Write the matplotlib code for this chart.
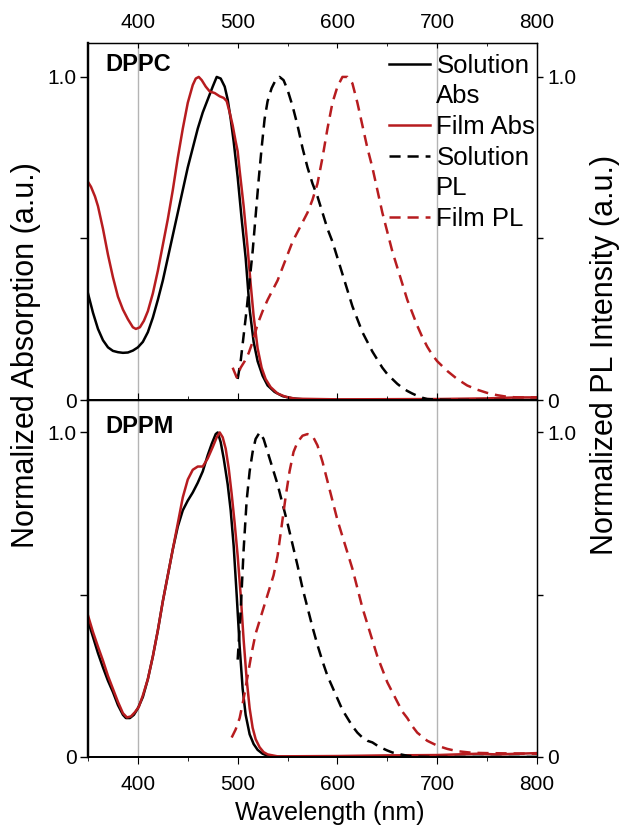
import numpy as np
import matplotlib
matplotlib.use('Agg')
import matplotlib.pyplot as plt
from matplotlib.lines import Line2D
from matplotlib.ticker import MultipleLocator

plt.rcParams['font.family'] = ['Liberation Sans', 'DejaVu Sans']
plt.rcParams['lines.scale_dashes'] = False

RED = '#b71c1f'
DASH = (8, 5)
LW = 1.8

# ---- DPPC (top panel) ----
dppc_sol_abs_x = [350, 355, 360, 365, 370, 375, 380, 385, 390, 395, 400, 405, 410, 415, 420, 425, 430,
                  435, 440, 445, 450, 455, 460, 465, 470, 475, 479, 483, 487, 490, 493, 496, 500, 504,
                  508, 512, 516, 520, 525, 530, 537, 545, 555, 570, 650, 800]
dppc_sol_abs_y = [0.33, 0.27, 0.22, 0.185, 0.163, 0.152, 0.148, 0.146, 0.147, 0.153, 0.163, 0.18, 0.21,
                  0.255, 0.31, 0.37, 0.44, 0.51, 0.58, 0.65, 0.72, 0.78, 0.84, 0.89, 0.93, 0.97, 1.0,
                  0.995, 0.97, 0.93, 0.87, 0.80, 0.69, 0.56, 0.44, 0.28, 0.18, 0.12, 0.075, 0.045, 0.025,
                  0.012, 0.005, 0.001, 0.0, 0.0]

dppc_film_abs_x = [350, 353, 357, 360, 365, 370, 375, 380, 385, 390, 395, 398, 402, 406, 410, 415, 420,
                   425, 430, 435, 440, 445, 450, 455, 458, 461, 464, 468, 472, 477, 482, 486, 489, 492,
                   495, 498, 500, 502, 506, 510, 513, 516, 520, 524, 528, 533, 540, 548, 558, 600, 700,
                   750, 780, 800]
dppc_film_abs_y = [0.675, 0.66, 0.63, 0.60, 0.53, 0.45, 0.38, 0.32, 0.28, 0.25, 0.225, 0.22, 0.225, 0.245,
                   0.275, 0.33, 0.40, 0.48, 0.56, 0.65, 0.75, 0.84, 0.92, 0.975, 0.995, 1.0, 0.99, 0.97,
                   0.955, 0.95, 0.94, 0.935, 0.925, 0.89, 0.85, 0.80, 0.77, 0.71, 0.60, 0.47, 0.36, 0.26,
                   0.16, 0.10, 0.065, 0.04, 0.02, 0.01, 0.004, 0.002, 0.003, 0.005, 0.008, 0.008]

dppc_sol_pl_x = [500, 503, 506, 509, 512, 515, 518, 521, 524, 527, 530, 534, 538, 542, 546, 550, 555,
                 560, 565, 570, 575, 580, 585, 590, 595, 600, 605, 610, 615, 620, 625, 630, 635, 640,
                 645, 650, 655, 660, 665, 670, 675, 680, 685, 690, 700, 720, 800]
dppc_sol_pl_y = [0.065, 0.12, 0.20, 0.28, 0.37, 0.46, 0.57, 0.68, 0.78, 0.87, 0.925, 0.965, 0.99, 1.0,
                 0.99, 0.96, 0.91, 0.85, 0.78, 0.72, 0.67, 0.63, 0.58, 0.53, 0.49, 0.44, 0.39, 0.34,
                 0.29, 0.25, 0.21, 0.18, 0.15, 0.125, 0.10, 0.08, 0.065, 0.05, 0.038, 0.028, 0.02,
                 0.013, 0.007, 0.003, 0.001, 0.0, 0.0]

dppc_film_pl_x = [495, 499, 503, 507, 511, 515, 520, 525, 530, 535, 540, 545, 550, 555, 560, 565, 570,
                  575, 580, 585, 590, 595, 600, 605, 610, 615, 620, 625, 630, 635, 640, 645, 650, 655,
                  660, 665, 670, 675, 680, 685, 690, 695, 700, 710, 720, 730, 740, 750, 760, 770, 780,
                  800]
dppc_film_pl_y = [0.10, 0.07, 0.10, 0.12, 0.145, 0.18, 0.235, 0.275, 0.31, 0.34, 0.37, 0.41, 0.45, 0.49,
                  0.52, 0.55, 0.58, 0.62, 0.67, 0.75, 0.84, 0.92, 0.97, 1.0, 1.0, 0.98, 0.92, 0.85,
                  0.78, 0.72, 0.65, 0.58, 0.52, 0.46, 0.41, 0.36, 0.31, 0.27, 0.23, 0.195, 0.165, 0.14,
                  0.12, 0.09, 0.065, 0.045, 0.032, 0.022, 0.015, 0.01, 0.008, 0.008]

# ---- DPPM (bottom panel) ----
dppm_sol_abs_x = [350, 355, 360, 365, 370, 375, 380, 385, 388, 392, 396, 400, 405, 410, 415, 420, 425,
                  430, 435, 440, 445, 450, 455, 460, 465, 470, 474, 478, 480, 483, 486, 490, 493, 496,
                  499, 502, 505, 508, 512, 516, 520, 525, 530, 540, 800]
dppm_sol_abs_y = [0.42, 0.37, 0.32, 0.276, 0.235, 0.20, 0.16, 0.13, 0.12, 0.12, 0.13, 0.15, 0.185, 0.24,
                  0.31, 0.39, 0.48, 0.56, 0.64, 0.71, 0.76, 0.79, 0.815, 0.845, 0.88, 0.93, 0.965,
                  0.995, 1.0, 0.97, 0.92, 0.84, 0.76, 0.65, 0.50, 0.34, 0.21, 0.13, 0.07, 0.04, 0.022,
                  0.01, 0.004, 0.001, 0.0]

dppm_film_abs_x = [350, 355, 360, 365, 370, 375, 380, 385, 389, 393, 397, 401, 405, 410, 415, 420, 425,
                   430, 435, 440, 445, 450, 455, 460, 465, 470, 475, 479, 482, 485, 488, 491, 494, 497,
                   500, 503, 506, 509, 512, 515, 518, 522, 526, 530, 540, 600, 650, 700, 740, 760, 800]
dppm_film_abs_y = [0.436, 0.385, 0.34, 0.297, 0.25, 0.21, 0.17, 0.135, 0.122, 0.125, 0.138, 0.155, 0.19,
                   0.24, 0.31, 0.39, 0.48, 0.56, 0.64, 0.72, 0.80, 0.855, 0.885, 0.895, 0.895, 0.92,
                   0.955, 0.985, 1.0, 0.985, 0.95, 0.89, 0.81, 0.72, 0.62, 0.50, 0.36, 0.24, 0.15, 0.09,
                   0.055, 0.03, 0.015, 0.008, 0.002, 0.003, 0.005, 0.006, 0.01, 0.008, 0.012]

dppm_sol_pl_x = [500, 503, 506, 509, 512, 515, 518, 522, 526, 530, 535, 540, 545, 550, 555, 560, 565,
                 570, 575, 580, 585, 590, 595, 600, 605, 610, 615, 620, 625, 630, 635, 640, 645, 650,
                 655, 660, 670, 680, 700, 800]
dppm_sol_pl_y = [0.30, 0.45, 0.64, 0.79, 0.88, 0.94, 0.98, 1.0, 0.98, 0.94, 0.89, 0.84, 0.78, 0.72,
                 0.655, 0.59, 0.52, 0.46, 0.40, 0.345, 0.295, 0.25, 0.215, 0.18, 0.145, 0.12, 0.095,
                 0.075, 0.06, 0.05, 0.045, 0.035, 0.027, 0.02, 0.014, 0.01, 0.004, 0.001, 0.0, 0.0]

dppm_film_pl_x = [494, 498, 502, 506, 510, 514, 518, 522, 527, 532, 536, 540, 544, 548, 552, 556, 560,
                  565, 570, 575, 580, 585, 590, 595, 600, 605, 610, 615, 620, 625, 630, 635, 640, 645,
                  650, 655, 660, 665, 670, 675, 680, 690, 700, 710, 720, 735, 750, 800]
dppm_film_pl_y = [0.06, 0.085, 0.12, 0.18, 0.25, 0.32, 0.38, 0.42, 0.47, 0.52, 0.56, 0.62, 0.71, 0.80,
                  0.88, 0.94, 0.97, 0.99, 0.995, 0.99, 0.96, 0.91, 0.85, 0.79, 0.73, 0.68, 0.63, 0.58,
                  0.52, 0.46, 0.41, 0.36, 0.31, 0.27, 0.23, 0.20, 0.17, 0.14, 0.12, 0.095, 0.075, 0.05,
                  0.035, 0.025, 0.018, 0.013, 0.012, 0.01]

panels = [
    ('DPPC', dppc_sol_abs_x, dppc_sol_abs_y, dppc_film_abs_x, dppc_film_abs_y,
     dppc_sol_pl_x, dppc_sol_pl_y, dppc_film_pl_x, dppc_film_pl_y),
    ('DPPM', dppm_sol_abs_x, dppm_sol_abs_y, dppm_film_abs_x, dppm_film_abs_y,
     dppm_sol_pl_x, dppm_sol_pl_y, dppm_film_pl_x, dppm_film_pl_y),
]
grid_nm = [400, 700]
y_ticks = [0, 0.5, 1.0]
y_ticklabels = ['0', '', '1.0']

W, H = 620, 830
fig = plt.figure(figsize=(W / 100, H / 100), dpi=100)
left, width, height = 88 / W, 449 / W, 357 / H
bottoms = [1 - 400 / H, 1 - 757 / H]

for i, (name, sax, say, fax, fay, spx, spy, fpx, fpy) in enumerate(panels):
    ax = fig.add_axes([left, bottoms[i], width, height])
    axr = ax.twinx()
    for g in grid_nm:
        ax.axvline(g, color='#b4b4b4', lw=1.0, zorder=0)
    ax.plot(sax, say, color='black', lw=LW)
    ax.plot(fax, fay, color=RED, lw=LW)
    axr.plot(spx, spy, color='black', lw=LW, dashes=DASH)
    axr.plot(fpx, fpy, color=RED, lw=LW, dashes=DASH)

    ylim = (0, 1.105) if i == 0 else (0, 1.1)
    for a in (ax, axr):
        a.set_xlim(350, 800)
        a.set_ylim(*ylim)
        a.set_yticks(y_ticks, y_ticklabels)
        a.xaxis.set_major_locator(MultipleLocator(100))
        a.xaxis.set_minor_locator(MultipleLocator(50))
    ax.tick_params(axis='y', direction='out', length=6, width=1.0, labelsize=15, pad=2)
    axr.tick_params(axis='y', direction='out', length=4.5, width=1.0, labelsize=15, pad=3)
    if i == 0:
        ax.tick_params(axis='x', which='both', top=True, bottom=False, labeltop=True,
                       labelbottom=False, direction='in', labelsize=15, pad=8)
        ax.tick_params(axis='x', which='major', length=3.5)
        ax.tick_params(axis='x', which='minor', length=2.5)
    else:
        ax.tick_params(axis='x', which='both', top=True, bottom=True, direction='out',
                       labelsize=15, pad=8)
        ax.tick_params(axis='x', which='major', length=5)
        ax.tick_params(axis='x', which='minor', length=3)
    for a in (ax, axr):
        a.spines['left'].set_linewidth(1.6)
        a.spines['bottom'].set_linewidth(1.3)
        a.spines['top'].set_linewidth(0.9)
        a.spines['right'].set_linewidth(0.9)

    ax.text(0.038, 0.94 if i == 0 else 0.927, name, transform=ax.transAxes,
            fontsize=17, fontweight='bold', va='center', ha='left')

    if i == 0:
        handles = [Line2D([], [], color='black', lw=LW),
                   Line2D([], [], color='none'),
                   Line2D([], [], color=RED, lw=LW),
                   Line2D([], [], color='black', lw=LW, dashes=DASH),
                   Line2D([], [], color='none'),
                   Line2D([], [], color=RED, lw=LW, dashes=DASH)]
        labels = ['Solution', 'Abs', 'Film Abs', 'Solution', 'PL', 'Film PL']
        axr.legend(handles, labels, loc='upper left', bbox_to_anchor=(0.67, 0.970),
                   frameon=False, fontsize=18.5, handlelength=1.6, handletextpad=0.25,
                   labelspacing=0.26, borderpad=0, borderaxespad=0)

fig.text(26 / W, 1 - 355 / H, 'Normalized Absorption (a.u.)', rotation=90,
         ha='center', va='center', fontsize=22)
fig.text(605 / W, 1 - 355 / H, 'Normalized PL Intensity (a.u.)', rotation=90,
         ha='center', va='center', fontsize=22)
fig.text(330 / W, 1 - 813 / H, 'Wavelength (nm)', ha='center', va='center', fontsize=18)

fig.savefig('out.png', dpi=100)
